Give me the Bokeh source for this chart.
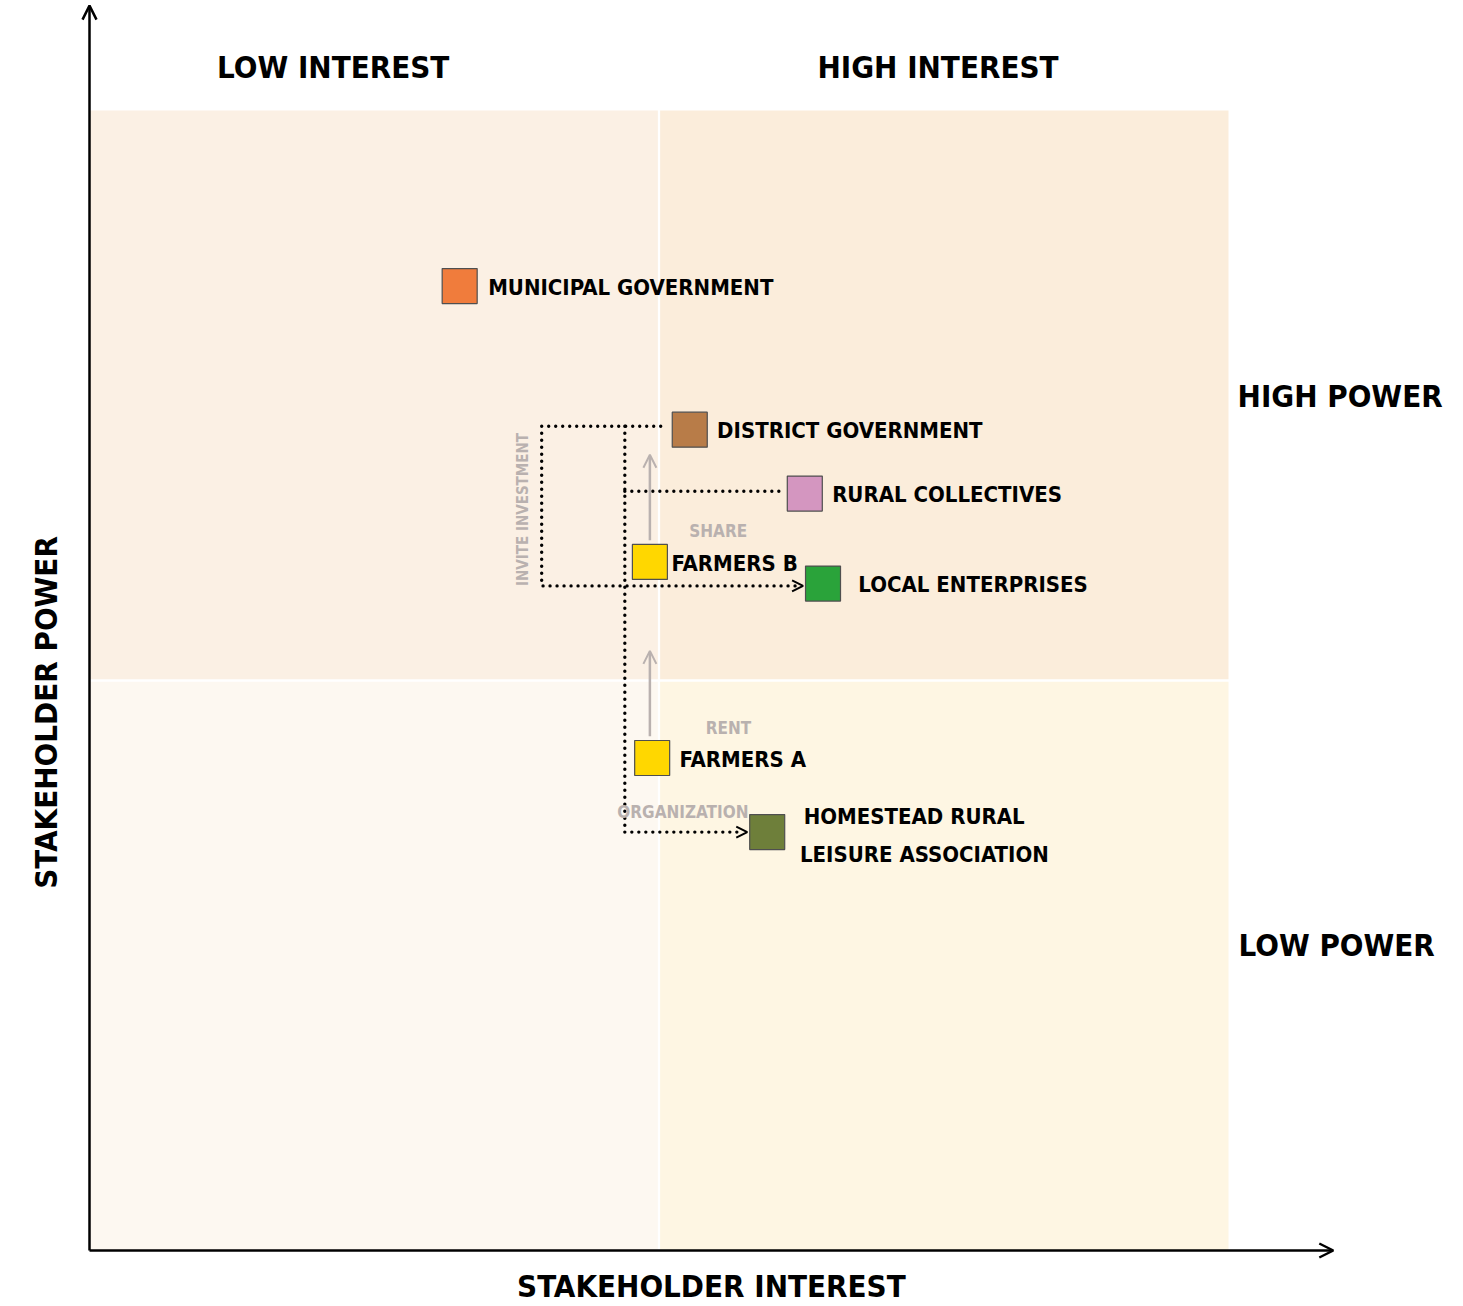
from bokeh.plotting import figure
from bokeh.models import ColumnDataSource, Arrow, OpenHead
from bokeh.core.properties import value
from bokeh.embed import file_html
from bokeh.resources import INLINE

# ---------------- data ----------------
stakeholders = ["MUNICIPAL GOVERNMENT", "DISTRICT GOVERNMENT", "RURAL COLLECTIVES",
                "FARMERS B", "LOCAL ENTERPRISES", "FARMERS A",
                "HOMESTEAD RURAL\nLEISURE ASSOCIATION"]
interest = [3.25, 5.27, 6.28, 4.92, 6.44, 4.94, 5.95]
power = [8.46, 7.20, 6.64, 6.04, 5.85, 4.32, 3.67]
colors = ["#F07C3C", "#B87C48", "#D496C0", "#FFD700", "#2AA33A", "#FFD700", "#6E7F3A"]

quadrant_names = ["LOW INTEREST / HIGH POWER", "HIGH INTEREST / HIGH POWER",
                  "LOW INTEREST / LOW POWER", "HIGH INTEREST / LOW POWER"]
quad_left = [0.0, 5.0, 0.0, 5.0]
quad_right = [5.0, 10.0, 5.0, 10.0]
quad_bottom = [5.0, 5.0, 0.0, 0.0]
quad_top = [10.0, 10.0, 5.0, 5.0]
quad_colors = ["#FBF0E4", "#FBEDDB", "#FDF8F1", "#FEF6E3"]

x_labels = ["LOW INTEREST", "HIGH INTEREST"]
y_labels = ["HIGH POWER", "LOW POWER"]
flow_labels = ["SHARE", "RENT", "ORGANIZATION"]

FONT = "DejaVu Sans Condensed, Roboto, sans-serif"

# ---------------- figure ----------------
W, H = 1460, 1304
SX, SY = 113.9, 114.0
p = figure(width=W, height=H, x_range=(-89 / SX, (W - 89) / SX),
           y_range=(-(H - 1250) / SY, 1250 / SY),
           output_backend="svg", toolbar_location=None, min_border=0,
           x_axis_location=None, y_axis_location=None)
p.grid.visible = False
p.outline_line_color = None
p.background_fill_color = "white"

# quadrants (with thin white gutters)
g = 0.01
p.quad(left=[l + (g if l > 0 else 0) for l in quad_left],
       right=[r - (g if r < 10 else 0) for r in quad_right],
       bottom=[b + (g if b > 0 else 0) for b in quad_bottom],
       top=[t - (g if t < 10 else 0) for t in quad_top],
       fill_color=quad_colors, line_color=None)

# axes with open arrow heads
p.add_layout(Arrow(x_start=0, y_start=0, x_end=0, y_end=10.92, line_width=2.5, line_color="black",
                   end=OpenHead(size=14, line_width=2.5, line_color="black")))
p.add_layout(Arrow(x_start=0, y_start=0, x_end=10.92, y_end=0, line_width=2.5, line_color="black",
                   end=OpenHead(size=14, line_width=2.5, line_color="black")))

# ---------------- connectors ----------------
half = 0.155  # half a marker in data units
idx = {n: i for i, n in enumerate(stakeholders)}
dg = idx["DISTRICT GOVERNMENT"]
rc = idx["RURAL COLLECTIVES"]
le = idx["LOCAL ENTERPRISES"]
ho = idx["HOMESTEAD RURAL\nLEISURE ASSOCIATION"]
fb = idx["FARMERS B"]
fa = idx["FARMERS A"]

invest_bus_x = 3.97
share_bus_x = 4.70
top_y = power[dg] + 0.03
le_y = power[le] - 0.02
dot = dict(line_color="black", line_width=3.4, line_dash="0 7", line_cap="round")

# invite investment loop
p.line([interest[dg] - half - 0.1, invest_bus_x, invest_bus_x, interest[le] - half - 0.06],
       [top_y, top_y, le_y, le_y], **dot)
p.add_layout(Arrow(x_start=interest[le] - half - 0.2, y_start=le_y,
                   x_end=interest[le] - half - 0.02, y_end=le_y, line_alpha=0,
                   end=OpenHead(size=11, line_width=2, line_color="black")))
# share / organization bus
p.line([share_bus_x, share_bus_x], [top_y, power[ho]], **dot)
p.line([share_bus_x, interest[rc] - half - 0.02], [power[rc] + 0.02, power[rc] + 0.02], **dot)
p.line([share_bus_x, interest[ho] - half - 0.06], [power[ho], power[ho]], **dot)
p.add_layout(Arrow(x_start=interest[ho] - half - 0.2, y_start=power[ho],
                   x_end=interest[ho] - half - 0.02, y_end=power[ho], line_alpha=0,
                   end=OpenHead(size=11, line_width=2, line_color="black")))

# grey upward arrows (farmers moving up)
grey = "#B9B1AF"
for i in (fb, fa):
    p.add_layout(Arrow(x_start=interest[fb], y_start=power[i] + 0.19, x_end=interest[fb],
                       y_end=power[i] + 0.94, line_color=grey, line_width=2.5,
                       end=OpenHead(size=13, line_width=2, line_color=grey)))

# grey flow labels
flow_x = [5.52, 5.61, 5.21]
flow_y = [6.31, 4.58, 3.85]
p.text(x=flow_x, y=flow_y, text=flow_labels, text_color=grey, text_font=value(FONT),
       text_font_size="17px", text_font_style="bold", text_align="center", text_baseline="middle")
p.text(x=[3.81], y=[6.50], text=["INVITE INVESTMENT"], angle=1.5708, text_color=grey,
       text_font=value(FONT), text_font_size="15px", text_font_style="bold",
       text_align="center", text_baseline="middle")

# ---------------- nodes ----------------
src = ColumnDataSource(dict(x=interest, y=power, c=colors, name=stakeholders))
p.scatter("x", "y", source=src, marker="square", size=35, fill_color="c",
          line_color="#4F4F4F", line_width=1.2)

label_dx = [0.25, 0.24, 0.24, 0.19, 0.31, 0.24, 0.0]
label_x = [x + d for x, d in zip(interest, label_dx)]
single = [i for i in range(len(stakeholders)) if "\n" not in stakeholders[i]]
p.text(x=[label_x[i] for i in single], y=[power[i] - 0.01 for i in single],
       text=[stakeholders[i] for i in single], text_font=value(FONT), text_font_size="22px",
       text_font_style="bold", text_color="black", text_align="left", text_baseline="middle")
ho_lines = stakeholders[ho].split("\n")
p.text(x=[interest[ho] + 1.29, interest[ho] + 1.38], y=[power[ho] + 0.14, power[ho] - 0.20],
       text=ho_lines, text_font=value(FONT), text_font_size="22px", text_font_style="bold",
       text_color="black", text_align="center", text_baseline="middle")

# ---------------- headers ----------------
p.text(x=[2.14, 7.45], y=[10.38, 10.38], text=x_labels, text_font=value(FONT),
       text_font_size="31px", text_font_style="bold", text_align="center", text_baseline="middle")
p.text(x=[10.98, 10.95], y=[7.50, 2.68], text=y_labels, text_font=value(FONT),
       text_font_size="31px", text_font_style="bold", text_align="center", text_baseline="middle")
p.text(x=[5.46], y=[-0.31], text=["STAKEHOLDER INTEREST"], text_font=value(FONT),
       text_font_size="31px", text_font_style="bold", text_align="center", text_baseline="middle")
p.text(x=[-0.386], y=[4.72], text=["STAKEHOLDER POWER"], angle=1.5708, text_font=value(FONT),
       text_font_size="31px", text_font_style="bold", text_align="center", text_baseline="middle")

open("out.html", "w").write(file_html(p, INLINE))
